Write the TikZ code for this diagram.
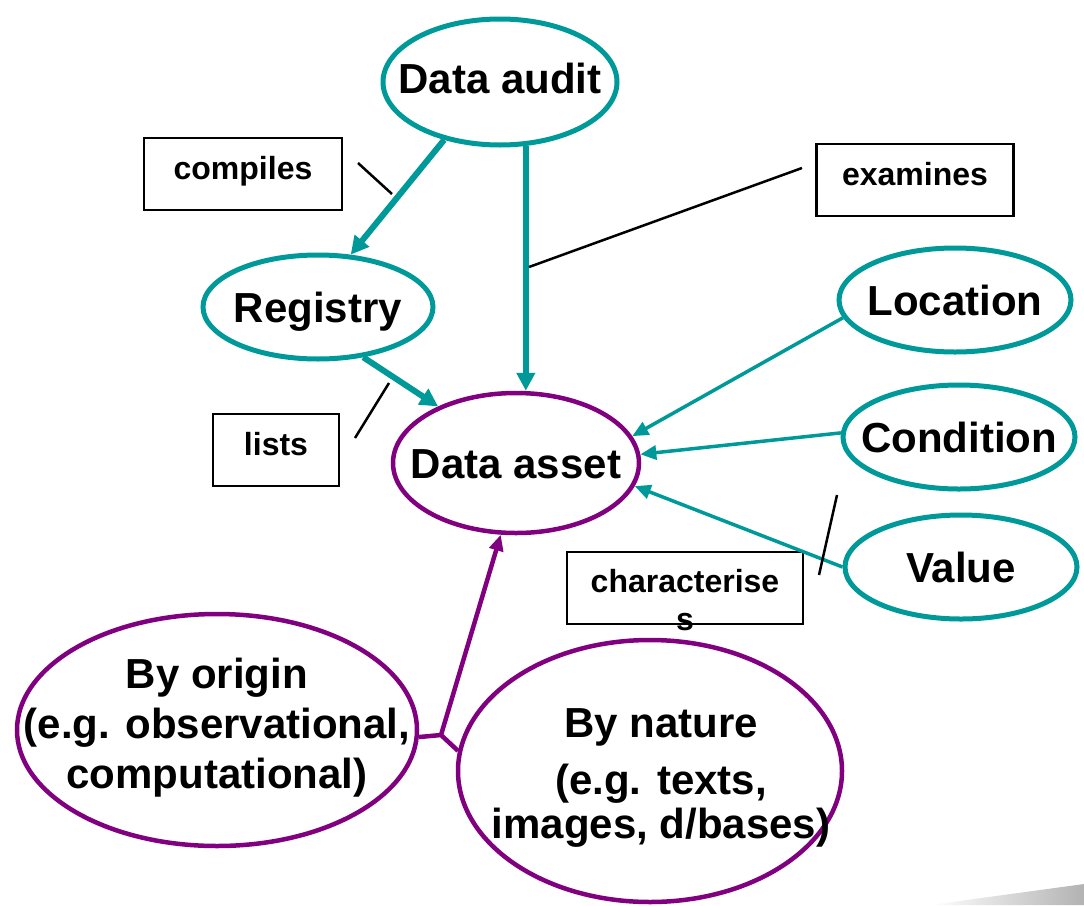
\documentclass[tikz,border=0pt]{standalone}
\usepackage{fontspec}
\setmainfont{Liberation Sans}
\usetikzlibrary{shapes.geometric,arrows.meta}
\definecolor{auditteal}{RGB}{0,153,153}
\definecolor{assetpurple}{RGB}{128,0,128}
\newcommand{\nowide}[1]{\makebox[0pt]{#1}}
\tikzset{
  tealoval/.style={ellipse, draw=auditteal, line width=5pt, inner sep=0pt,
    text height=30pt, text depth=0pt, font=\fontsize{42}{50}\selectfont\bfseries},
  purpleoval/.style={tealoval, draw=assetpurple, line width=4.5pt},
  verbbox/.style={rectangle, draw=black, line width=2.7pt, inner sep=0pt,
    minimum height=72pt, text height=11pt, text depth=0pt,
    font=\fontsize{32}{38}\selectfont\bfseries},
  bigarrow/.style={draw=auditteal, line width=6pt, -{Triangle[length=18pt,width=18pt]}},
  smallarrow/.style={draw=auditteal, line width=3.5pt, -{Triangle[length=16pt,width=14pt]}},
  kindline/.style={draw=assetpurple, line width=4.5pt},
  pointer/.style={draw=black, line width=2.5pt}
}
\begin{document}
\begin{tikzpicture}[x=1pt,y=-1pt]
\useasboundingbox (0,0) rectangle (1084,905);
\shade[left color=white, right color=black!30] (930,905) -- (1084,884) -- (1084,905) -- cycle;
% teal ovals
\node[tealoval, minimum width=234pt, minimum height=126pt, text height=22pt] (audit) at (500,82) {\nowide{Data audit}};
\node[tealoval, minimum width=230pt, minimum height=104pt] (registry) at (318,307) {\nowide{Registry}};
\node[tealoval, minimum width=232pt, minimum height=104pt] (location) at (955,300) {\nowide{Location}};
\node[tealoval, minimum width=232pt, minimum height=104pt] (condition) at (959,437) {\nowide{Condition}};
\node[tealoval, minimum width=232pt, minimum height=104pt] (value) at (961,567) {\nowide{Value}};
% purple ovals
\node[purpleoval, minimum width=246pt, minimum height=140pt] (asset) at (516,463) {\nowide{Data asset}};
\node[purpleoval, minimum width=400pt, minimum height=232pt, text height=116pt] (origin) at (217,730)
  {\nowide{\begin{tabular}[b]{@{}c@{}}By origin\\(e.g. observational,\\computational)\end{tabular}}};
\node[purpleoval, minimum width=384pt, minimum height=262pt, text height=134pt] (nature) at (650,771)
  {\nowide{\kern22pt\fontsize{42}{43}\selectfont\begin{tabular}[b]{@{}c@{}}By nature\\[14pt] (e.g. texts,\\images, d/bases)\end{tabular}}};
% verb boxes
\node[verbbox, minimum width=198pt] (compiles) at (243,174) {\nowide{compiles}};
\node[verbbox, minimum width=197pt] (examines) at (915,180) {\nowide{examines}};
\node[verbbox, minimum width=126pt] (lists) at (276,450) {\nowide{lists}};
\node[verbbox, minimum width=236pt, text height=8pt] (charbox) at (685,588)
  {\nowide{\begin{tabular}[t]{@{}c@{}}characterise\\s\end{tabular}}};
% connectors
\draw[bigarrow] (audit.226) -- (registry.58);
\draw[bigarrow] (audit.-68) -- (audit.-68 |- asset.north);
\draw[bigarrow] (registry.-48) -- (asset.144);
\draw[smallarrow] (location.189) -- (asset.13);
\draw[smallarrow] (condition.178) -- (asset.4);
\draw[smallarrow] (value.180) -- (asset.-11);
%
\coordinate (fork) at (441,735);
\draw[kindline] (origin.-2) -- (fork) -- (nature.174);
\draw[kindline, -{Triangle[length=16pt,width=14pt]}] (fork) -- (asset.-102);
% pointers to the verb boxes
\draw[pointer] (358,163) -- (392,194);
\draw[pointer] (529,267) -- (802,168);
\draw[pointer] (389,383) -- (355,438);
\draw[pointer] (837,495) -- (819,575);
\end{tikzpicture}
\end{document}
